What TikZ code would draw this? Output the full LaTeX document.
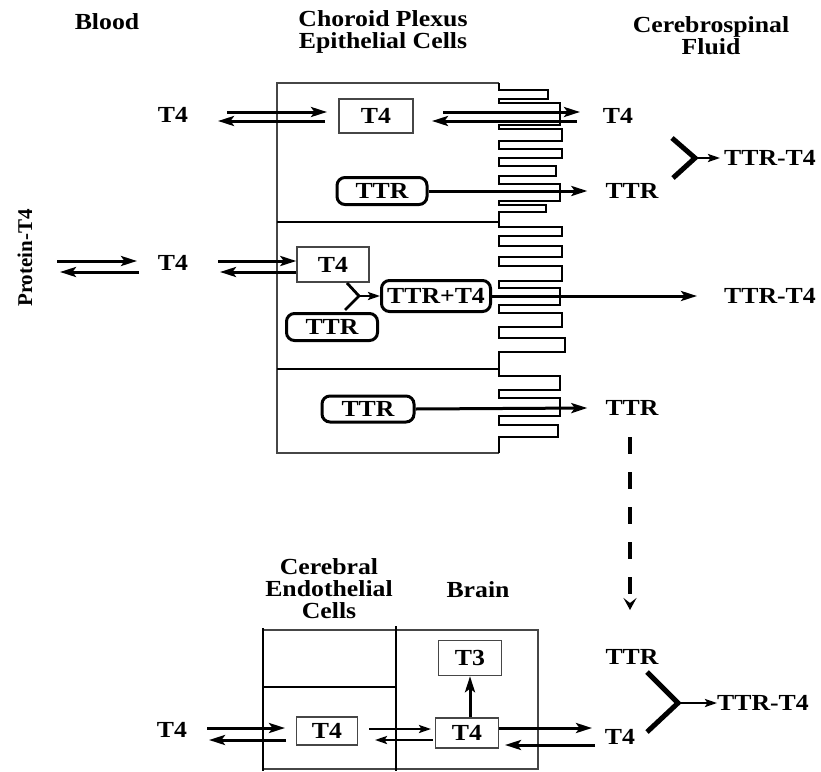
\documentclass[tikz,border=0pt]{standalone}
\usepackage{fontspec}
\setmainfont{Liberation Serif}[FakeStretch=1.12]
\newfontfamily\uprightserif{Liberation Serif}
\usetikzlibrary{arrows.meta, calc}
\definecolor{linegray}{RGB}{70,70,70}

\tikzset{
  every node/.style={font=\fontsize{23}{22}\selectfont\bfseries, inner sep=0pt},
  fwd/.style={line width=3pt, -{Stealth[length=16pt,width=10pt,inset=3.5pt]}},
  thinfwd/.style={line width=2.3pt, -{Stealth[length=12pt,width=8pt,inset=2.5pt]}},
  plainbox/.style={draw=linegray, line width=1.4pt},
  ttrbox/.style={draw, line width=3pt, rounded corners=8pt},
  arm/.style={line width=5pt},
  cellline/.style={draw=linegray, line width=1.4pt},
  villi/.style={line width=1.8pt},
  wall/.style={line width=2.2pt},
  dashfall/.style={line width=4pt, dash pattern=on 17pt off 18pt, -{Stealth[length=12pt,width=13pt,inset=5pt]}}
}

\begin{document}
\begin{tikzpicture}[x=1pt,y=-1pt]
\useasboundingbox (0,0) rectangle (821,771);

% headings
\node (hBlood) at (107,22) {Blood};
\node[align=center] (hPlexus) at (383,32) {Choroid Plexus\\Epithelial Cells};
\node[align=center] (hCSF) at (711,36) {Cerebrospinal\\Fluid};

% choroid plexus cells with microvilli
\draw[cellline] (499,453) -- (277,453) -- (277,83) -- (499,83);
\draw[villi] (499,83)
  \foreach \t/\b/\r in {90/99/548, 103/125/560, 129/141/562, 149/158/562, 166/176/556,
      184/201/560, 205/212/546, 227/236/562, 246/257/562, 266/281/562, 288/305/560,
      313/327/562, 338/352/565, 376/390/560, 398/416/560, 425/437/558}
    { -- (499,\t) -- (\r,\t) -- (\r,\b) -- (499,\b) }
  -- (499,453);
\draw[wall] (277,222) -- (499,222);
\draw[wall] (277,369) -- (499,369);

% row 1
\node (bT4a) at (173,115) {T4};
\node[plainbox, minimum width=74pt, minimum height=34pt] (cT4a) at (376,116) {T4};
\node (fT4a) at (618,116) {T4};
\draw[fwd] ($(bT4a)+(54,-3)$) -- ($(cT4a)+(-49,-4)$);
\draw[fwd] ($(cT4a)+(-51,5)$) -- ($(bT4a)+(45,6)$);
\draw[fwd] ($(cT4a)+(67,-4)$) -- ($(fT4a)+(-38,-4)$);
\draw[fwd] ($(fT4a)+(-41,5)$) -- ($(cT4a)+(56,5)$);

% row 2
\node[ttrbox, minimum width=90pt, minimum height=27pt] (cTTRa) at (382,191) {TTR};
\node (fTTRa) at (632,191) {TTR};
\draw[fwd] (cTTRa.east) -- ($(fTTRa.west)+(-18,0)$);
\node (fYa) at (770,158) {TTR-T4};
\coordinate (J1) at (695,158);
\draw[arm] ($(fT4a)+(54,22)$) -- (J1) -- ($(fTTRa)+(41,-13)$);
\draw[thinfwd] (J1) -- ($(fYa.west)+(-4,0)$);

% row 3
\node[rotate=90, font=\fontsize{21}{21}\selectfont\uprightserif\bfseries] (prot) at (25,258) {Protein-T4};
\node (bT4b) at (173,263) {T4};
\node[plainbox, minimum width=72pt, minimum height=35pt] (cT4b) at (333,264.5) {T4};
\draw[fwd] ($(prot)+(32,3)$) -- ($(bT4b)+(-36,-2)$);
\draw[fwd] ($(bT4b)+(-34,9)$) -- ($(prot)+(35,14)$);
\draw[fwd] ($(bT4b)+(45,-2)$) -- ($(cT4b.west)+(0,-3.5)$);
\draw[fwd] ($(cT4b.west)+(0,7.5)$) -- ($(bT4b)+(47,9)$);
\node[ttrbox, minimum width=109pt, minimum height=31pt] (cTTRT4) at (436,296) {TTR+T4};
\node[ttrbox, minimum width=91pt, minimum height=27pt] (cTTRb) at (332,327) {TTR};
\coordinate (J2) at (359,296);
\draw[line width=2.8pt] ($(cT4b)+(14,18.5)$) -- (J2) -- ($(cTTRb)+(13,-17)$);
\draw[thinfwd] (J2) -- (cTTRT4.west);
\node (fYb) at (770,296) {TTR-T4};
\draw[fwd] (cTTRT4.east) -- ($(fYb.west)+(-27,0)$);

% row 4
\node[ttrbox, minimum width=92pt, minimum height=26pt] (cTTRc) at (368,409) {TTR};
\node (fTTRc) at (632,408) {TTR};
\draw[fwd] (cTTRc.east) -- ($(fTTRc.west)+(-18,0)$);

% cerebral endothelial cells and brain
\node[align=center] (hEndo) at (329,589) {Cerebral\\Endothelial\\Cells};
\node (hBrain) at (478,590) {Brain};
\draw[cellline] (263,630) rectangle (538,769);
\draw[line width=2.8pt] (263,628) -- (263,771);
\draw[line width=2.8pt] (396,626) -- (396,771);
\draw[wall] (263,687) -- (396,687);

\node[plainbox, minimum width=61pt, minimum height=28pt] (eT4) at (327,731) {T4};
\node[plainbox, minimum width=63pt, minimum height=35pt] (bT3) at (470,658) {T3};
\node[plainbox, minimum width=63pt, minimum height=30pt] (brT4) at (467,733) {T4};
\node (lT4) at (172,730) {T4};
\node (rTTR) at (632,657) {TTR};
\node (rT4) at (620,737) {T4};
\node (fYc) at (763,703) {TTR-T4};

\draw[fwd] ($(lT4)+(35,-2)$) -- ($(eT4)+(-42,-3)$);
\draw[fwd] ($(eT4)+(-41,9)$) -- ($(lT4)+(37,10)$);
\draw[thinfwd] ($(eT4)+(42,-2)$) -- ($(brT4)+(-36,-4)$);
\draw[thinfwd] ($(brT4)+(-34,7)$) -- ($(eT4)+(48,9)$);
\draw[fwd] (brT4.north -| bT3.south) -- (bT3.south);
\draw[fwd] ($(brT4)+(32,-5)$) -- ($(rT4)+(-28,-9)$);
\draw[fwd] ($(rT4)+(-25,8)$) -- ($(brT4)+(38,12)$);
\coordinate (J3) at (678,703);
\draw[arm] ($(rTTR)+(15,15)$) -- (J3) -- ($(rT4)+(27,-5)$);
\draw[thinfwd] (J3) -- (fYc.west);

% CSF flow to brain
\draw[dashfall] ($(fTTRc)+(-2,29)$) -- ($(rTTR)+(-2,-47)$);
\end{tikzpicture}
\end{document}
